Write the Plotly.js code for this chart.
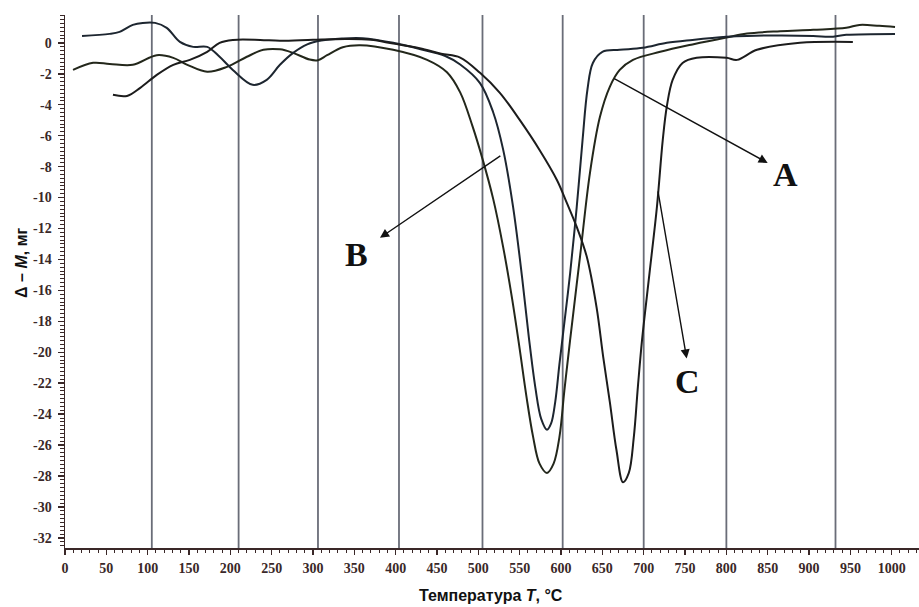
<!DOCTYPE html>
<html>
<head>
<meta charset="utf-8">
<script src="https://cdn.plot.ly/plotly-3.0.1.min.js"></script>
<style>html,body{margin:0;padding:0;background:#fff;}#chart{width:919px;height:607px;}</style>
</head>
<body>
<div id="chart"></div>
<script>
// ---- data ----
const xTickVals = [0,50,100,150,200,250,300,350,400,450,500,550,600,650,700,750,800,850,900,950,1000];
const yTickVals = [0,-2,-4,-6,-8,-10,-12,-14,-16,-18,-20,-22,-24,-26,-28,-30,-32];
const yTickText = ['0','-2','-4','-6','-8','-10','-12','-14','-16','-18','-20','-22','-24','-26','-28','-30','-32'];
const gridT = [105,210,306,404,505,602,700,800,932];

const A_T = [9.7,34,54,82,111,131,148,172,196,220,240,260,276,296,306,317,336,357,397,438,462,478,493,505,518,530,541,550,558,566,574,583,591,598,604,611,623,635,647,659,671,687,720,759,800,825,865,905,945,961,985,1004];
const A_v = [-1.75,-1.29,-1.36,-1.42,-0.8,-0.97,-1.42,-1.87,-1.55,-0.9,-0.45,-0.42,-0.65,-1.08,-1.12,-0.8,-0.28,-0.15,-0.45,-1.1,-1.9,-3.2,-5.4,-7.5,-10.1,-13.2,-16.6,-19.8,-22.8,-25.4,-27.2,-27.8,-27.2,-25.5,-22.5,-19.2,-13.8,-8.4,-4.8,-2.84,-1.75,-1.1,-0.58,-0.1,0.35,0.6,0.75,0.84,0.97,1.16,1.1,1.03];

const B_T = [20.6,54,66,82,94,109,123,139,155,172,187,203,227,244,260,276,293,310,335,360,397,429,460,478,502,518,530,542,553,561,569,576,583,588,593,598,602,611,619,626,632,638.5,650,671,699,728,759,800,825,905,925,945,1004];
const B_v = [0.45,0.58,0.71,1.16,1.29,1.29,0.97,0.06,-0.26,-0.26,-0.9,-1.75,-2.71,-2.39,-1.42,-0.65,-0.1,0.15,0.28,0.3,0.0,-0.4,-0.85,-1.4,-2.6,-4.5,-6.9,-10.6,-15.2,-19.0,-22.3,-24.3,-25.0,-24.6,-23.2,-20.8,-19.0,-14.9,-10.6,-6.3,-3.0,-1.3,-0.58,-0.45,-0.32,0.0,0.19,0.39,0.45,0.45,0.39,0.52,0.58];

const C_T = [58,75,91,111,131,151,172,187,203,236,260,300,340,370,397,429,455,478,502,526,550,574,595,607,619,631,643,651,659,667,675,682,688,693,698,707,716,723,728,735,747,764,800,813,837,889,953];
const C_v = [-3.36,-3.43,-2.91,-2.07,-1.42,-1.1,-0.58,0.0,0.19,0.19,0.13,0.2,0.25,0.2,-0.05,-0.35,-0.7,-0.95,-1.94,-3.23,-4.98,-6.92,-8.86,-10.34,-11.9,-13.8,-17.1,-20.3,-23.2,-26.3,-28.4,-27.8,-25.5,-22.2,-19.2,-14.9,-10.6,-6.3,-4.1,-2.4,-1.3,-0.97,-0.97,-1.1,-0.45,0.0,0.06];

const axisColor = '#3a2828';
const SERIF = 'Liberation Serif';
const SANS = 'Liberation Sans';

const lineStyle = c => ({color:c, width:2, shape:'spline', smoothing:1});
const traces = [
  {x:A_T, y:A_v, mode:'lines', line:lineStyle('#23271b'), name:'A', hoverinfo:'skip'},
  {x:B_T, y:B_v, mode:'lines', line:lineStyle('#1d2630'), name:'B', hoverinfo:'skip'},
  {x:C_T, y:C_v, mode:'lines', line:lineStyle('#1c1c1c'), name:'C', hoverinfo:'skip'}
];

const shapes = gridT.map(t => ({type:'line', xref:'x', yref:'paper', x0:t, x1:t, y0:0, y1:1,
  line:{color:'#6a6d78', width:1.8}, layer:'below'}));

const labelFont = () => ({family:SERIF, size:34, color:'#111', weight:700});
const annotations = [
  {xref:'x', yref:'y', axref:'x', ayref:'y', x:850, y:-7.76, ax:662.6, ay:-2.26, text:'', showarrow:true,
   arrowhead:2, arrowsize:1.3, arrowwidth:1.4, arrowcolor:'#111'},
  {xref:'x', yref:'y', x:871, y:-8.5, text:'A', showarrow:false, font:labelFont()},
  {xref:'x', yref:'y', axref:'x', ayref:'y', x:381, y:-12.6, ax:528.4, ay:-7.24, text:'', showarrow:true,
   arrowhead:2, arrowsize:1.3, arrowwidth:1.4, arrowcolor:'#111'},
  {xref:'x', yref:'y', x:353, y:-13.7, text:'B', showarrow:false, font:labelFont()},
  {xref:'x', yref:'y', axref:'x', ayref:'y', x:752, y:-20.4, ax:717, ay:-9.5, text:'', showarrow:true,
   arrowhead:2, arrowsize:1.3, arrowwidth:1.4, arrowcolor:'#111'},
  {xref:'x', yref:'y', x:753, y:-21.9, text:'C', showarrow:false, font:labelFont()},
  {xref:'paper', yref:'paper', x:-0.0503, y:0.535, xanchor:'center', yanchor:'middle', textangle:-90,
   text:'\u0394 \u2013 <i>M</i>, \u043c\u0433', showarrow:false,
   font:{family:SANS, size:16, color:'#111', weight:700}},
  {xref:'paper', yref:'paper', x:0.499, y:-0.09, xanchor:'center', yanchor:'middle',
   text:'\u0422\u0435\u043c\u043f\u0435\u0440\u0430\u0442\u0443\u0440\u0430 <i>T</i>, \u00b0C', showarrow:false,
   font:{family:SANS, size:16, color:'#111', weight:700}}
];

const layout = {
  width:919, height:607,
  margin:{l:65, r:0, t:15, b:59},
  paper_bgcolor:'#fff', plot_bgcolor:'#fff',
  showlegend:false,
  font:{family:SERIF, size:14, color:axisColor},
  xaxis:{range:[0,1033], showgrid:false, zeroline:false, showline:true, linecolor:axisColor, linewidth:1.5,
    tickmode:'array', tickvals:xTickVals, ticktext:xTickVals.map(String), ticks:'outside', ticklen:5, tickwidth:1.5, tickcolor:axisColor,
    tickfont:{family:SERIF, size:14, color:axisColor, weight:700}, ticklabelstandoff:2,
    minor:{tickmode:'linear', tick0:0, dtick:10, ticks:'outside', ticklen:3, tickwidth:1, tickcolor:axisColor, showgrid:false}},
  yaxis:{range:[-32.65,1.8], showgrid:false, zeroline:false, showline:true, linecolor:axisColor, linewidth:1.5,
    tickmode:'array', tickvals:yTickVals, ticktext:yTickText, ticks:'outside', ticklen:6, tickwidth:1.5, tickcolor:axisColor,
    tickfont:{family:SERIF, size:14, color:axisColor, weight:700}, ticklabelstandoff:3,
    minor:{tickmode:'linear', tick0:0, dtick:0.25, ticks:'outside', ticklen:4, tickwidth:1, tickcolor:axisColor, showgrid:false}},
  shapes:shapes,
  annotations:annotations
};

Plotly.newPlot('chart', traces, layout, {staticPlot:true, displayModeBar:false});
</script>
</body>
</html>
